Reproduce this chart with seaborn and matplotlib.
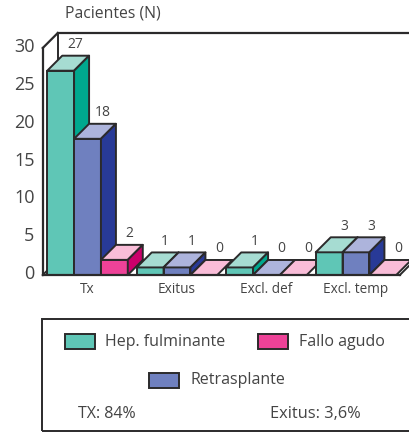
import matplotlib
matplotlib.use("Agg")
import matplotlib.pyplot as plt
import matplotlib.transforms as mtrans
import seaborn as sns
import pandas as pd
from matplotlib.patches import Polygon, Rectangle
from matplotlib.lines import Line2D

categories = ["Tx", "Exitus", "Excl. def", "Excl. temp"]
series_names = ["Hep. fulminante", "Retrasplante", "Fallo agudo"]
hep_fulminante = [27, 1, 1, 3]
retrasplante = [18, 1, 0, 3]
fallo_agudo = [2, 0, 0, 0]
y_ticks = [0, 5, 10, 15, 20, 25, 30]
front_colors = ["#5FC6B6", "#6F80BF", "#EE4298"]
top_colors = ["#A6DCD2", "#ADB4DC", "#F9BDD8"]
side_colors = ["#00A88E", "#283A97", "#CC006B"]
INK = "#2B2A2B"
TXT = "#444444"

W, H = 409, 434
sns.set_theme(style="white")
plt.rcParams["font.family"] = ["Open Sans", "DejaVu Sans"]

df = pd.DataFrame({
    "cat": categories * 3,
    "serie": [s for s in series_names for _ in categories],
    "n": hep_fulminante + retrasplante + fallo_agudo,
})

fig = plt.figure(figsize=(W / 100, H / 100), dpi=100)
X0, Y0, YTOP = 42.75, 275, 48
UNIT_X = 89.5
ax = fig.add_axes([X0 / W, (H - Y0) / H, (W - X0) / W, (Y0 - YTOP) / H])
ax.patch.set_alpha(0)
LW = 1.4

sns.barplot(data=df, x="cat", y="n", hue="serie", order=categories,
            hue_order=series_names, palette=front_colors, width=0.9, gap=0,
            saturation=1, edgecolor=INK, linewidth=LW, legend=False, ax=ax,
            errorbar=None)

ax.set_xlim(-0.5, -0.5 + (W - X0) / UNIT_X)
ax.set_ylim(0, 30)
DX = 15 / UNIT_X
DY = 15 / ((Y0 - YTOP) / 30)

# back wall and floor of the pseudo-3D box
xl, xr = ax.get_xlim()
floor_right = 3.0 + 0.45 + 0.04
def ln(xs, ys, z=1, lw=LW):
    ax.add_line(Line2D(xs, ys, color=INK, lw=lw, zorder=z, clip_on=False,
                       solid_capstyle="projecting"))
ln([xl, xl], [0, 30], z=40, lw=LW + 0.2)
ln([xl, xl + DX], [30, 30 + DY], z=40, lw=LW + 0.2)
ln([xl + DX, xl + DX], [DY, 30 + DY], z=1)
ln([xl + DX, xr], [30 + DY, 30 + DY], z=1, lw=LW + 0.2)
ln([xl, xl + DX], [0, DY], z=1)
ln([xl + DX, floor_right + DX], [DY, DY], z=1)
ln([floor_right, floor_right + DX], [0, DY], z=1)
ln([xl, floor_right], [0, 0], z=60, lw=LW + 0.2)

# depth faces and value labels derived from the seaborn bars
values = [hep_fulminante, retrasplante, fallo_agudo]
for s, container in enumerate(ax.containers):
    for c, bar in enumerate(container):
        x0, w, h = bar.get_x(), bar.get_width(), bar.get_height()
        z = 5 + 3 * (c * 3 + s)
        bar.set_zorder(z)
        top = Polygon([(x0, h), (x0 + DX, h + DY), (x0 + w + DX, h + DY), (x0 + w, h)],
                      closed=True, fc=top_colors[s], ec=INK, lw=LW, zorder=z + 1,
                      clip_on=False, joinstyle="round")
        ax.add_patch(top)
        if h > 0:
            side = Polygon([(x0 + w, 0), (x0 + w + DX, DY), (x0 + w + DX, h + DY), (x0 + w, h)],
                           closed=True, fc=side_colors[s], ec=INK, lw=LW, zorder=z + 1,
                           clip_on=False, joinstyle="round")
            ax.add_patch(side)
        ax.text(x0 + w / 2 + DX, h + DY + 11 / ((Y0 - YTOP) / 30), f"{values[s][c]:d}",
                ha="center", va="center", fontsize=10, color=TXT, zorder=80, clip_on=False)

sns.despine(ax=ax, left=True, bottom=True, top=True, right=True)
ax.set_xlabel("")
ax.set_ylabel("")
ax.set_yticks(y_ticks)
ax.tick_params(axis="y", length=0, pad=6, labelsize=13, labelcolor=TXT)
ax.tick_params(axis="x", length=0, pad=5, labelsize=9.8, labelcolor=TXT)
shift = mtrans.ScaledTranslation(0, 3 / 100, fig.dpi_scale_trans)
for lab in ax.get_yticklabels():
    lab.set_transform(lab.get_transform() + shift)

fig.text(65 / W, 1 - 14 / H, "Pacientes (N)", fontsize=11.3, color=TXT, ha="left", va="center")

# legend box in figure pixels
def rect(x, y, w, h, **kw):
    fig.add_artist(Rectangle((x / W, 1 - (y + h) / H), w / W, h / H,
                             transform=fig.transFigure, **kw))
def txt(x, y, s, size=11.5):
    fig.text(x / W, 1 - y / H, s, fontsize=size, color=TXT, ha="left", va="center")

rect(42, 319, 400, 112, fc="none", ec=INK, lw=LW)
entries = [(64.5, 334, 105, series_names[0], 0),
           (258, 334, 299, series_names[2], 2),
           (148.5, 373, 190, series_names[1], 1)]
for px, py, tx, label, idx in entries:
    rect(px, py, 30, 15, fc=front_colors[idx], ec=INK, lw=LW)
    txt(tx, py + 7.5, label)
txt(78, 413.5, "TX: 84%")
txt(270, 413.5, "Exitus: 3,6%", size=11.8)

fig.savefig("out.png", dpi=100)
